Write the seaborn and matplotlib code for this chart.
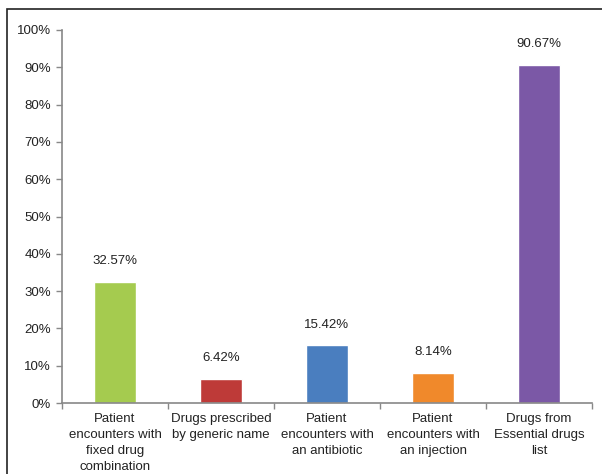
import matplotlib
matplotlib.use("Agg")
import matplotlib.pyplot as plt
import seaborn as sns
import pandas as pd
from matplotlib.patches import Rectangle

categories = ["Patient\nencounters with\nfixed drug\ncombination",
              "Drugs prescribed\nby generic name",
              "Patient\nencounters with\nan antibiotic",
              "Patient\nencounters with\nan injection",
              "Drugs from\nEssential drugs\nlist"]
values = [32.57, 6.42, 15.42, 8.14, 90.67]
labels = ["32.57%", "6.42%", "15.42%", "8.14%", "90.67%"]
colors = ["#A5CB4F", "#BE3A38", "#4A7EBF", "#F0892B", "#7B58A6"]
yticks = [0, 10, 20, 30, 40, 50, 60, 70, 80, 90, 100]
ytick_labels = [f"{v}%" for v in yticks]

sns.set_theme(style="white")
plt.rcParams['font.family'] = ['Liberation Sans', 'DejaVu Sans']

df = pd.DataFrame({"cat": categories, "val": values})

fig = plt.figure(figsize=(6.02, 4.74), dpi=100)
ax = fig.add_axes([62/602, 1-403/474, 530/602, 373/474])
sns.barplot(data=df, x="cat", y="val", hue="cat", palette=colors, legend=False,
            width=0.405, ax=ax, saturation=1)

for i, (v, lab) in enumerate(zip(values, labels)):
    ax.annotate(lab, (i, v), xytext=(0, 15), textcoords="offset points",
                ha="center", va="center", fontsize=9.5, color="#222222")

ax.set_ylim(0, 100)
ax.set_xlim(-0.5, 4.5)
ax.set_yticks(yticks)
ax.set_yticklabels(ytick_labels, fontsize=9.5, color="#222222")
ax.set_xticks(range(len(categories)))
ax.set_xticklabels(categories, fontsize=9.5, color="#222222", linespacing=1.45)
ax.tick_params(axis="x", length=0, pad=7)
ax.tick_params(axis="y", length=4, width=1, color="#888888", left=True, direction="out", pad=4)
# minor ticks at category boundaries on x axis
ax.set_xticks([-0.5, 0.5, 1.5, 2.5, 3.5, 4.5], minor=True)
ax.tick_params(axis="x", which="minor", length=4, width=1, color="#888888", bottom=True, direction="out")
ax.set_xlabel("")
ax.set_ylabel("")
for s in ["top", "right"]:
    ax.spines[s].set_visible(False)
for s in ["left", "bottom"]:
    ax.spines[s].set_color("#888888")
    ax.spines[s].set_linewidth(1.2)

fig.patches.append(Rectangle((7/602, -0.1), 1.2, 1 - 9/474 + 0.1, transform=fig.transFigure,
                             fill=False, edgecolor="#222222", linewidth=1.2))

fig.savefig("out.png", dpi=100)
